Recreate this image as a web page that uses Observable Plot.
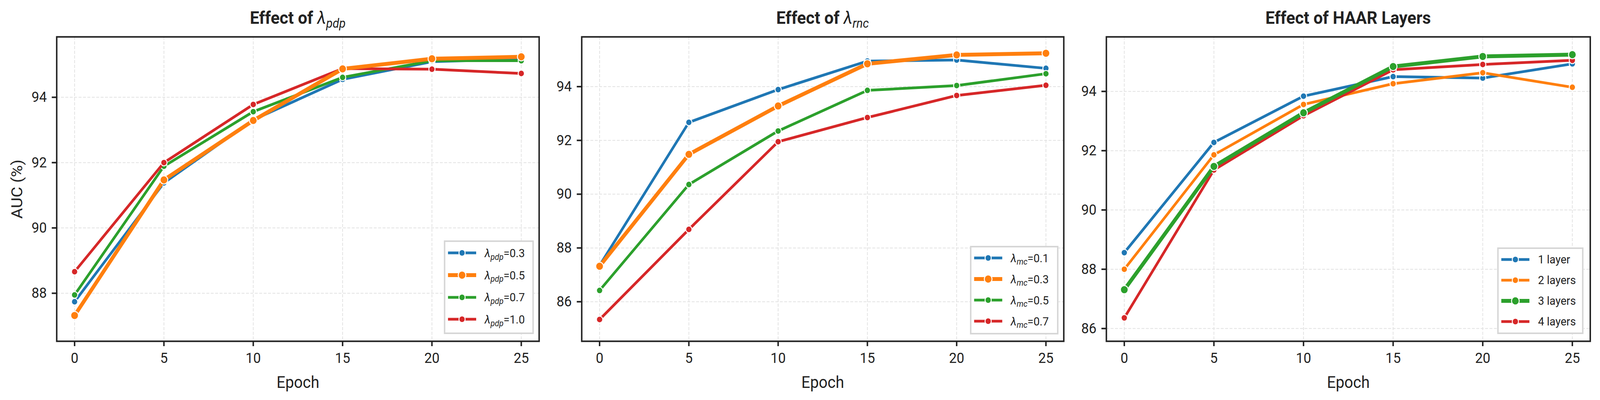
<!DOCTYPE html>
<html><head><meta charset="utf-8">
<script src="https://cdn.jsdelivr.net/npm/d3@7"></script>
<script src="https://cdn.jsdelivr.net/npm/@observablehq/plot@0.6"></script>
<style>
html,body{margin:0;padding:0;background:#fff;overflow:hidden;}
#wrap{position:absolute;left:0;top:0;width:4358px;height:1025px;overflow:hidden;transform-origin:0 0;font-family:"Liberation Sans Narrow","Roboto","Liberation Sans",sans-serif;color:#222;}
.panel{position:absolute;top:0;}
.title{position:absolute;top:16px;font-size:45px;font-weight:bold;text-align:center;line-height:60px;white-space:nowrap;}
.title .lam{font-weight:normal;font-style:italic;}
sub{font-size:0.72em;vertical-align:baseline;position:relative;top:0.32em;font-style:italic;font-weight:normal;}
.legend{position:absolute;box-sizing:border-box;border:4px solid #d6d6d6;background:#fff;padding-left:7px;}
.row{display:flex;align-items:center;font-size:30px;white-space:nowrap;}
.row svg{flex:none;margin-right:23px;}
svg [aria-label="y-axis label"] text{font-size:42px;}
svg [aria-label="x-axis label"] text{font-size:42px;}
</style>
</head><body>
<div id="wrap"></div>
<script>
// ---- data ----
const epochs = [0, 5, 10, 15, 20, 25];
const colors = ["#1f77b4", "#ff7f0e", "#2ca02c", "#d62728"];

// Panel 1: effect of lambda_pdp
const pdpLabels = ["0.3", "0.5", "0.7", "1.0"];
const pdp03 = [87.74, 91.38, 93.31, 94.55, 95.09, 95.17];
const pdp05 = [87.32, 91.47, 93.29, 94.87, 95.18, 95.24];
const pdp07 = [87.95, 91.89, 93.56, 94.61, 95.12, 95.12];
const pdp10 = [88.66, 92.00, 93.78, 94.88, 94.86, 94.73];

// Panel 2: effect of lambda_rnc
const rncLabels = ["0.1", "0.3", "0.5", "0.7"];
const rnc01 = [87.35, 92.67, 93.89, 94.95, 94.99, 94.68];
const rnc03 = [87.32, 91.48, 93.28, 94.85, 95.18, 95.24];
const rnc05 = [86.42, 90.36, 92.35, 93.86, 94.04, 94.48];
const rnc07 = [85.34, 88.69, 91.95, 92.85, 93.67, 94.05];

// Panel 3: effect of HAAR layers
const layerLabels = ["1 layer", "2 layers", "3 layers", "4 layers"];
const layer1 = [88.56, 92.28, 93.84, 94.50, 94.45, 94.93];
const layer2 = [88.00, 91.86, 93.56, 94.26, 94.63, 94.14];
const layer3 = [87.31, 91.47, 93.28, 94.84, 95.18, 95.24];
const layer4 = [86.36, 91.35, 93.18, 94.73, 94.91, 95.05];

const yTicks1 = [88, 90, 92, 94];
const yTicks2 = [86, 88, 90, 92, 94];
const yTicks3 = [86, 88, 90, 92, 94];

// ---- layout config ----
const panels = [
  {left: 0, width: 1480, mL: 154, mR: 12, yDomain: [86.53, 95.85], yTicks: yTicks1,
   series: [pdp03, pdp05, pdp07, pdp10], highlight: 1, ylabel: "AUC (%)",
   title: 'Effect of <span class="lam">λ<sub>pdp</sub></span>',
   legendText: pdpLabels.map(l => `<span style="font-style:italic">λ<sub>pdp</sub></span>=${l}`),
   legend: {left: 1209, top: 616, width: 245, height: 240, rowH: 56.7, padTop: 0}},
  {left: 1480, width: 1430, mL: 104, mR: 13, yDomain: [84.53, 95.85], yTicks: yTicks2,
   series: [rnc01, rnc03, rnc05, rnc07], highlight: 1, ylabel: null,
   title: 'Effect of <span class="lam">λ<sub>rnc</sub></span>',
   legendText: rncLabels.map(l => `<span style="font-style:italic">λ<sub>mc</sub></span>=${l}`),
   legend: {left: 2642, top: 630, width: 241, height: 227, rowH: 54, padTop: 0}},
  {left: 2910, width: 1448, mL: 103, mR: 27, yDomain: [85.57, 95.84], yTicks: yTicks3,
   series: [layer1, layer2, layer3, layer4], highlight: 2, ylabel: null,
   title: 'Effect of HAAR Layers',
   legendText: layerLabels,
   legend: {left: 4078, top: 634, width: 235, height: 222, rowH: 53, padTop: 0}}
];

const H = 1025, mT = 94, mB = 151;
const wrap = document.getElementById("wrap");
function fit() {
  const sx = (window.innerWidth || 4358) / 4358;
  const sy = (window.innerHeight || 1025) / 1025;
  wrap.style.transform = `scale(${sx}, ${sy})`;
}
fit();
window.addEventListener("resize", fit);

panels.forEach(p => {
  const rows = [];
  p.series.forEach((vals, si) => vals.forEach((v, i) => rows.push({epoch: epochs[i], value: v, s: si})));
  const order = [0, 1, 2, 3].filter(i => i !== p.highlight).concat([p.highlight]);
  const gridStyle = {stroke: "#e2e2e2", strokeOpacity: 1, strokeWidth: 2, strokeDasharray: "8,4"};
  const marks = [
    Plot.gridX(epochs, gridStyle),
    Plot.gridY(p.yTicks, gridStyle)
  ];
  order.forEach(si => {
    const hl = si === p.highlight;
    const d = rows.filter(r => r.s === si);
    marks.push(Plot.line(d, {x: "epoch", y: "value", stroke: colors[si], strokeWidth: hl ? 10 : 7, strokeLinejoin: "round"}));
    marks.push(Plot.dot(d, {x: "epoch", y: "value", fill: colors[si], stroke: "#fff", strokeWidth: 2.5, r: hl ? 10.5 : 8.5}));
  });
  marks.push(Plot.frame({stroke: "#222", strokeWidth: 4}));
  marks.push(Plot.axisX({ticks: epochs, tickSize: 13, tickPadding: 16, strokeWidth: 4, stroke: "#222", fill: "#222", fontSize: 37,
    label: "Epoch", labelAnchor: "center", labelOffset: 119, labelArrow: "none"}));
  marks.push(Plot.axisY({ticks: p.yTicks, tickSize: 13, tickPadding: 14, strokeWidth: 4, stroke: "#222", fill: "#222", fontSize: 37,
    label: p.ylabel, labelAnchor: "center", labelOffset: 124, labelArrow: "none"}));

  const chart = Plot.plot({
    width: p.width, height: H,
    marginLeft: p.mL, marginRight: p.mR, marginTop: mT, marginBottom: mB,
    x: {domain: [-1, 26]},
    y: {domain: p.yDomain},
    style: {fontFamily: '"Liberation Sans Narrow","Roboto","Liberation Sans",sans-serif', color: "#222", background: "transparent", overflow: "visible", maxWidth: "none"},
    marks
  });
  const div = document.createElement("div");
  div.className = "panel";
  div.style.left = p.left + "px";
  div.appendChild(chart);
  wrap.appendChild(div);

  const t = document.createElement("div");
  t.className = "title";
  t.style.left = (p.left + p.mL) + "px";
  t.style.width = (p.width - p.mL - p.mR) + "px";
  t.innerHTML = p.title;
  wrap.appendChild(t);

  const lg = document.createElement("div");
  lg.className = "legend";
  Object.assign(lg.style, {left: p.legend.left + "px", top: p.legend.top + "px", width: p.legend.width + "px", height: p.legend.height + "px", paddingTop: p.legend.padTop + "px"});
  p.legendText.forEach((txt, si) => {
    const hl = si === p.highlight;
    const row = document.createElement("div");
    row.className = "row";
    row.style.height = p.legend.rowH + "px";
    const ns = "http://www.w3.org/2000/svg";
    const s = document.createElementNS(ns, "svg");
    s.setAttribute("width", 77); s.setAttribute("height", 26);
    const ln = document.createElementNS(ns, "line");
    ln.setAttribute("x1", 0); ln.setAttribute("x2", 77); ln.setAttribute("y1", 13); ln.setAttribute("y2", 13);
    ln.setAttribute("stroke", colors[si]); ln.setAttribute("stroke-width", hl ? 10 : 7);
    const c = document.createElementNS(ns, "circle");
    c.setAttribute("cx", 38.5); c.setAttribute("cy", 13); c.setAttribute("r", hl ? 10.5 : 8.5);
    c.setAttribute("fill", colors[si]); c.setAttribute("stroke", "#fff"); c.setAttribute("stroke-width", 2.5);
    s.appendChild(ln); s.appendChild(c);
    row.appendChild(s);
    const sp = document.createElement("span");
    sp.innerHTML = txt;
    row.appendChild(sp);
    lg.appendChild(row);
  });
  wrap.appendChild(lg);
});
</script>
</body></html>
